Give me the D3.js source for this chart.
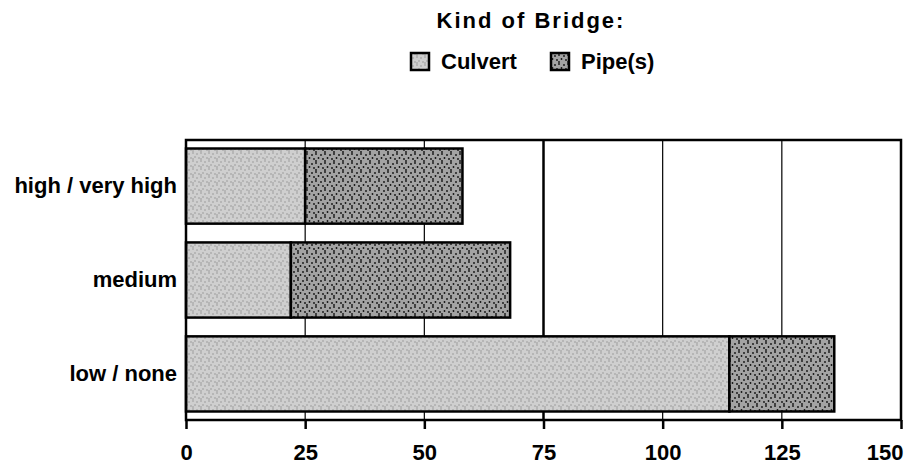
<!DOCTYPE html>
<html><head><meta charset="utf-8">
<script src="https://cdn.jsdelivr.net/npm/d3@7"></script>
<style>
body{margin:0;background:#fff;}
text{font-family:"Liberation Sans",Arial,sans-serif;font-weight:bold;fill:#000;}
</style></head>
<body><svg id="c" width="904" height="466"></svg>
<script>
const categories = ["high / very high", "medium", "low / none"];
const seriesNames = ["Culvert", "Pipe(s)"];
const culvert = [25, 22, 114];
const pipes = [33, 46, 22];
const xTicks = [0, 25, 50, 75, 100, 125, 150];
const title = "Kind of Bridge:";

const svg = d3.select("#c");
const defs = svg.append("defs");

// dotted fill patterns
function makePattern(id, bg, dot, r, size, pts) {
  const p = defs.append("pattern").attr("id", id).attr("patternUnits", "userSpaceOnUse")
    .attr("width", size).attr("height", size);
  p.append("rect").attr("width", size).attr("height", size).attr("fill", bg);
  pts.forEach(([x, y]) => p.append("circle").attr("cx", x).attr("cy", y).attr("r", r).attr("fill", dot));
}
makePattern("pCulvert", "#cfcfcf", "#8a8a8a", 0.7, 8, [[1,1],[5,2],[3,5],[7,6],[1,7]]);
makePattern("pPipe", "#a3a3a3", "#111", 0.9, 9, [[1,1],[6,2],[3.5,5],[8,6],[1,8]]);
const fills = ["url(#pCulvert)", "url(#pPipe)"];

const L = 186, R = 901, T = 140, B = 420;
const x = d3.scaleLinear().domain([0, 150]).range([L, R]);
const y = d3.scaleBand().domain(categories).range([T + 1, B - 1]).paddingInner(0.2).paddingOuter(0.08);

// gridlines
svg.append("g").selectAll("line").data(xTicks.filter(d => d > 0 && d < 150)).join("line")
  .attr("x1", d => x(d)).attr("x2", d => x(d)).attr("y1", T).attr("y2", B)
  .attr("stroke", "#000").attr("stroke-width", d => d === 75 ? 2.5 : 1.2);

// stacked bars
const rows = categories.map((c, i) => ({ cat: c, vals: [culvert[i], pipes[i]] }));
const bars = svg.append("g");
rows.forEach(r => {
  let acc = 0;
  r.vals.forEach((v, j) => {
    bars.append("rect")
      .attr("x", x(acc)).attr("y", y(r.cat))
      .attr("width", x(acc + v) - x(acc)).attr("height", y.bandwidth())
      .attr("fill", fills[j]).attr("stroke", "#000").attr("stroke-width", 2.5);
    acc += v;
  });
});

// frame
svg.append("rect").attr("x", L).attr("y", T).attr("width", R - L).attr("height", B - T)
  .attr("fill", "none").attr("stroke", "#000").attr("stroke-width", 2.5);

// x axis
const xAxis = d3.axisBottom(x).tickValues(xTicks).tickSize(9).tickPadding(15).tickFormat(d3.format("d"));
const gx = svg.append("g").attr("transform", `translate(0,${B})`).call(xAxis);
gx.select(".domain").remove();
gx.selectAll(".tick line").attr("stroke", "#000").attr("stroke-width", 2.5);
gx.selectAll(".tick text").style("font-size", "22px").attr("fill", "#000")
  .attr("text-anchor", d => d === 150 ? "end" : "middle")
  .attr("x", d => d === 150 ? 2 : 0);

// y axis labels
const yAxis = d3.axisLeft(y).tickSize(0).tickPadding(9);
const gy = svg.append("g").attr("transform", `translate(${L},0)`).call(yAxis);
gy.select(".domain").remove();
gy.selectAll(".tick text").style("font-size", "22px").attr("fill", "#000");

// title
svg.append("text").attr("x", 531).attr("y", 28).attr("text-anchor", "middle")
  .style("font-size", "22px").style("letter-spacing", "2px").text(title);

// legend
const leg = svg.append("g");
const legX = [411, 551];
seriesNames.forEach((s, i) => {
  leg.append("rect").attr("x", legX[i]).attr("y", 53).attr("width", 18).attr("height", 17)
    .attr("fill", fills[i]).attr("stroke", "#000").attr("stroke-width", 2.5);
  leg.append("text").attr("x", legX[i] + 30).attr("y", 69).style("font-size", "22px").text(s);
});
</script></body></html>
